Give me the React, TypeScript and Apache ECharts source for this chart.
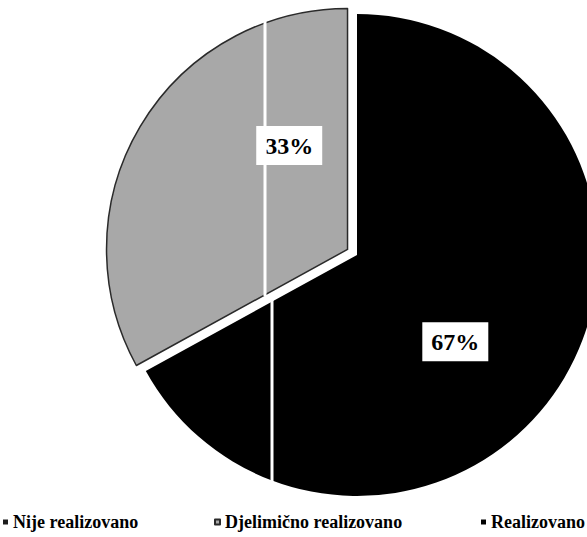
import React, { useEffect, useRef } from "react";
import * as echarts from "echarts";

const categories = ["Realizovano", "Djelimično realizovano", "Nije realizovano"];
const values = [67, 33, 0];
const legendOrder = ["Nije realizovano", "Djelimično realizovano", "Realizovano"];
const sliceColors = ["#000000", "#a8a8a8", "#1c1c1c"];

const FONT = "Liberation Serif";

export default function App() {
  const ref = useRef<HTMLDivElement>(null);

  useEffect(() => {
    if (!ref.current) return;
    const chart = echarts.init(ref.current, null, { renderer: "svg" });

    const data = categories.map((name, i) => ({
      name,
      value: values[i],
      selected: i === 1,
      itemStyle:
        i === 1
          ? { color: sliceColors[i], borderColor: "#2a2a2a", borderWidth: 1.5 }
          : { color: sliceColors[i], borderWidth: 0 },
      label: { show: values[i] > 0 },
    }));

    const labelShift: Record<number, [number, number]> = {
      0: [-8, 24],
      1: [48, -41],
    };

    const legendBase = {
      top: 513,
      padding: 0,
      icon: "rect",
      itemWidth: 5,
      itemHeight: 5,
      itemGap: 0,
      selectedMode: false,
      textStyle: {
        fontFamily: FONT,
        fontWeight: "bold",
        fontSize: 18,
        color: "#000",
      },
    };

    chart.setOption({
      animation: false,
      backgroundColor: "#ffffff",
      legend: [
        { ...legendBase, left: 3, data: [legendOrder[0]] },
        { ...legendBase, left: 214, data: [legendOrder[1]] },
        { ...legendBase, right: 2, data: [legendOrder[2]] },
      ],
      series: [
        {
          type: "pie",
          center: [357, 255],
          radius: 241,
          startAngle: 90,
          clockwise: true,
          selectedMode: "single",
          selectedOffset: 11,
          avoidLabelOverlap: false,
          z: 2,
          label: {
            position: "inside",
            formatter: (p: any) => `${p.value}%`,
            fontFamily: FONT,
            fontWeight: "bold",
            fontSize: 24,
            color: "#000",
            backgroundColor: "#ffffff",
            padding: [8, 9, 7, 9],
          },
          labelLine: { show: false },
          emphasis: { disabled: true },
          labelLayout: (params: any) => {
            const s = labelShift[params.dataIndex] || [0, 0];
            return { dx: s[0], dy: s[1] };
          },
          data,
        },
      ],
      graphic: [
        {
          type: "line",
          z: 10,
          shape: { x1: 272, y1: 300, x2: 272, y2: 496 },
          style: { stroke: "#ffffff", lineWidth: 3 },
        },
        {
          type: "line",
          z: 10,
          shape: { x1: 265, y1: 20, x2: 265, y2: 296 },
          style: { stroke: "#ffffff", lineWidth: 3 },
        },
      ],
    });

    return () => chart.dispose();
  }, []);

  return (
    <div
      ref={ref}
      style={{ position: "fixed", left: 0, top: 0, width: 587, height: 537 }}
    />
  );
}
